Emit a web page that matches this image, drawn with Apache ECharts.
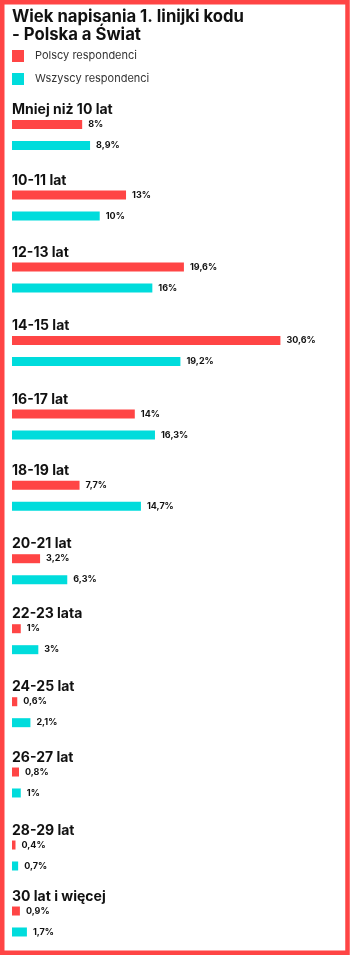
<!DOCTYPE html>
<html>
<head>
<meta charset="utf-8">
<script src="https://cdn.jsdelivr.net/npm/echarts@6/dist/echarts.min.js"></script>
<style>
html,body{margin:0;padding:0;background:#fff;}
#chart{width:350px;height:955px;}
</style>
</head>
<body>
<div id="chart"></div>
<script>
// ---- data ----
const categories = ['Mniej niż 10 lat','10-11 lat','12-13 lat','14-15 lat','16-17 lat','18-19 lat','20-21 lat','22-23 lata','24-25 lat','26-27 lat','28-29 lat','30 lat i więcej'];
const polishValues = [8, 13, 19.6, 30.6, 14, 7.7, 3.2, 1, 0.6, 0.8, 0.4, 0.9];
const worldValues  = [8.9, 10, 16, 19.2, 16.3, 14.7, 6.3, 3, 2.1, 1, 0.7, 1.7];
const seriesNames = ['Polscy respondenci', 'Wszyscy respondenci'];

// ---- layout ----
const redCenters = [124.5, 195, 267, 340.5, 414, 485.3, 558.7, 628.7, 701.7, 772, 845, 911];
const RED = '#FF4545', CYAN = '#00DCDC';
const FONT = 'Inter';

const grids = [], xAxes = [], yAxes = [], series = [];
const fmt = p => String(p.value).replace('.', ',') + '%';
categories.forEach((cat, i) => {
  grids.push({ left: 12, width: 307, top: redCenters[i] - 4.5, height: 30 });
  xAxes.push({ type: 'value', gridIndex: i, min: 0, max: 35, show: false });
  yAxes.push({
    type: 'category', gridIndex: i, data: [cat],
    axisLine: { show: false }, axisTick: { show: false }, axisLabel: { show: false },
    splitLine: { show: false },
    name: cat, nameLocation: 'end', nameGap: 3,
    nameTextStyle: { align: 'left', verticalAlign: 'bottom', fontFamily: FONT, fontSize: 14, fontWeight: 'bold', color: '#111', padding: 0 }
  });
  [[seriesNames[0], polishValues, RED], [seriesNames[1], worldValues, CYAN]].forEach(([nm, vals, col]) => {
    series.push({
      type: 'bar', name: nm, xAxisIndex: i, yAxisIndex: i,
      data: [vals[i]], barWidth: 9, barGap: '133%',
      itemStyle: { color: col },
      label: { show: true, position: 'right', distance: 6, formatter: fmt,
        fontFamily: FONT, fontSize: 9, fontWeight: 'bold', color: '#111' },
      silent: true, animation: false
    });
  });
});

const chart = echarts.init(document.getElementById('chart'), null, { renderer: 'canvas' });
chart.setOption({
  animation: false,
  backgroundColor: '#fff',
  title: {
    text: 'Wiek napisania 1. linijki kodu\n- Polska a Świat',
    left: 12, top: 8, padding: 0,
    textStyle: { fontFamily: FONT, fontSize: 16.7, fontWeight: 'bold', color: '#111', lineHeight: 18 }
  },
  legend: {
    orient: 'vertical', left: 12, top: 50, padding: 0,
    itemWidth: 12, itemHeight: 12, itemGap: 11, icon: 'rect',
    data: seriesNames,
    textStyle: { fontFamily: FONT, fontSize: 11, color: '#333', padding: [0, 0, 0, 6] },
    selectedMode: false
  },
  grid: grids, xAxis: xAxes, yAxis: yAxes, series: series,
  graphic: [{
    type: 'rect', silent: true, z: 100,
    shape: { x: 2.25, y: 2.25, width: 345.25, height: 950.5 },
    style: { fill: 'none', stroke: RED, lineWidth: 4.5 }
  }]
});
</script>
</body>
</html>
